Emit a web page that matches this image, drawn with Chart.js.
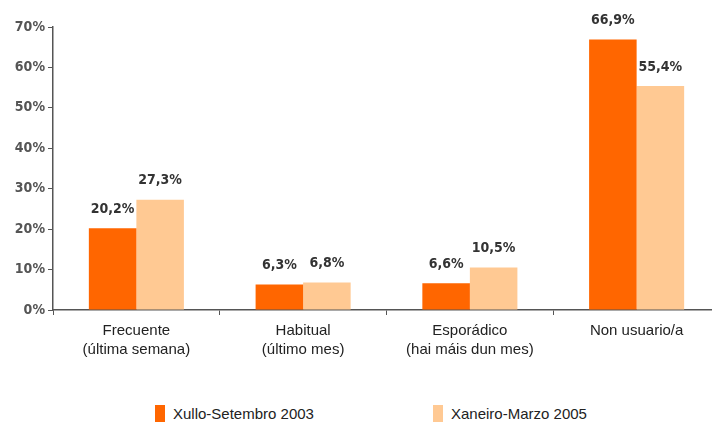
<!DOCTYPE html>
<html>
<head>
<meta charset="utf-8">
<script src="https://cdn.jsdelivr.net/npm/chart.js@4"></script>
<style>
  html, body { margin: 0; padding: 0; background: #fff; overflow: hidden; }
  #wrap { position: relative; width: 720px; height: 366px; }
  #legend { position: absolute; top: 405px; left: 0; width: 712px; font-family: "Liberation Sans", Arial, sans-serif; font-size: 15px; color: #222; }
  .item { position: absolute; top: 0; display: flex; align-items: center; }
  .box { width: 10px; height: 17px; margin-right: 8px; }
</style>
</head>
<body>
<div id="wrap"><canvas id="chart" width="720" height="366"></canvas></div>
<div id="legend"></div>
<script>
// datos
const categories = [
  ['Frecuente', '(última semana)'],
  ['Habitual', '(último mes)'],
  ['Esporádico', '(hai máis dun mes)'],
  'Non usuario/a'
];
const seriesNames = ['Xullo-Setembro 2003', 'Xaneiro-Marzo 2005'];
const serie2003 = [20.2, 6.3, 6.6, 66.9];
const serie2005 = [27.3, 6.8, 10.5, 55.4];
const yTicks = [0, 10, 20, 30, 40, 50, 60, 70];
const colors = ['#FF6600', '#FFC993'];

// etiquetas sobre as barras
const valueLabels = {
  id: 'valueLabels',
  afterDatasetsDraw(chart) {
    const ctx = chart.ctx;
    ctx.save();
    ctx.font = 'bold 14px "DejaVu Sans Condensed", "DejaVu Sans", sans-serif';
    ctx.fillStyle = '#333';
    ctx.textAlign = 'center';
    ctx.textBaseline = 'middle';
    chart.data.datasets.forEach((ds, i) => {
      chart.getDatasetMeta(i).data.forEach((bar, j) => {
        const txt = ds.data[j].toFixed(1).replace('.', ',') + '%';
        ctx.fillText(txt, bar.x, bar.y - 19);
      });
    });
    ctx.restore();
  }
};

const ctx = document.getElementById('chart').getContext('2d');
new Chart(ctx, {
  type: 'bar',
  data: {
    labels: categories,
    datasets: [
      { label: seriesNames[0], data: serie2003, backgroundColor: colors[0] },
      { label: seriesNames[1], data: serie2005, backgroundColor: colors[1] }
    ]
  },
  options: {
    responsive: false,
    animation: false,
    layout: { padding: { top: 27, right: 0, bottom: 0, left: 5 } },
    datasets: { bar: { categoryPercentage: 0.57, barPercentage: 1 } },
    plugins: { legend: { display: false }, tooltip: { enabled: false } },
    scales: {
      y: {
        min: 0,
        max: 70,
        afterBuildTicks: (axis) => { axis.ticks = yTicks.map(v => ({ value: v })); },
        afterFit: (axis) => { axis.width = 48; },
        ticks: {
          callback: v => v + '%',
          color: '#555',
          padding: 3,
          font: { family: '"DejaVu Sans Condensed", "DejaVu Sans", sans-serif', size: 14, weight: 'bold' }
        },
        grid: { drawOnChartArea: false, drawTicks: true, tickLength: 5, color: '#555' },
        border: { display: true, color: '#555', width: 1.5 }
      },
      x: {
        ticks: {
          color: '#222',
          padding: 6,
          font: { family: '"Liberation Sans", Arial, sans-serif', size: 15, lineHeight: 1.3 }
        },
        grid: { offset: true, drawOnChartArea: false, drawTicks: true, tickLength: 5, color: '#555' },
        border: { display: true, color: '#555', width: 1.5 }
      }
    }
  },
  plugins: [valueLabels]
});

// lenda
const legend = document.getElementById('legend');
const legendX = [155, 433];
seriesNames.forEach((name, i) => {
  const it = document.createElement('div');
  it.className = 'item';
  it.style.left = legendX[i] + 'px';
  it.innerHTML = `<span class="box" style="background:${colors[i]}"></span><span>${name}</span>`;
  legend.appendChild(it);
});
</script>
</body>
</html>
